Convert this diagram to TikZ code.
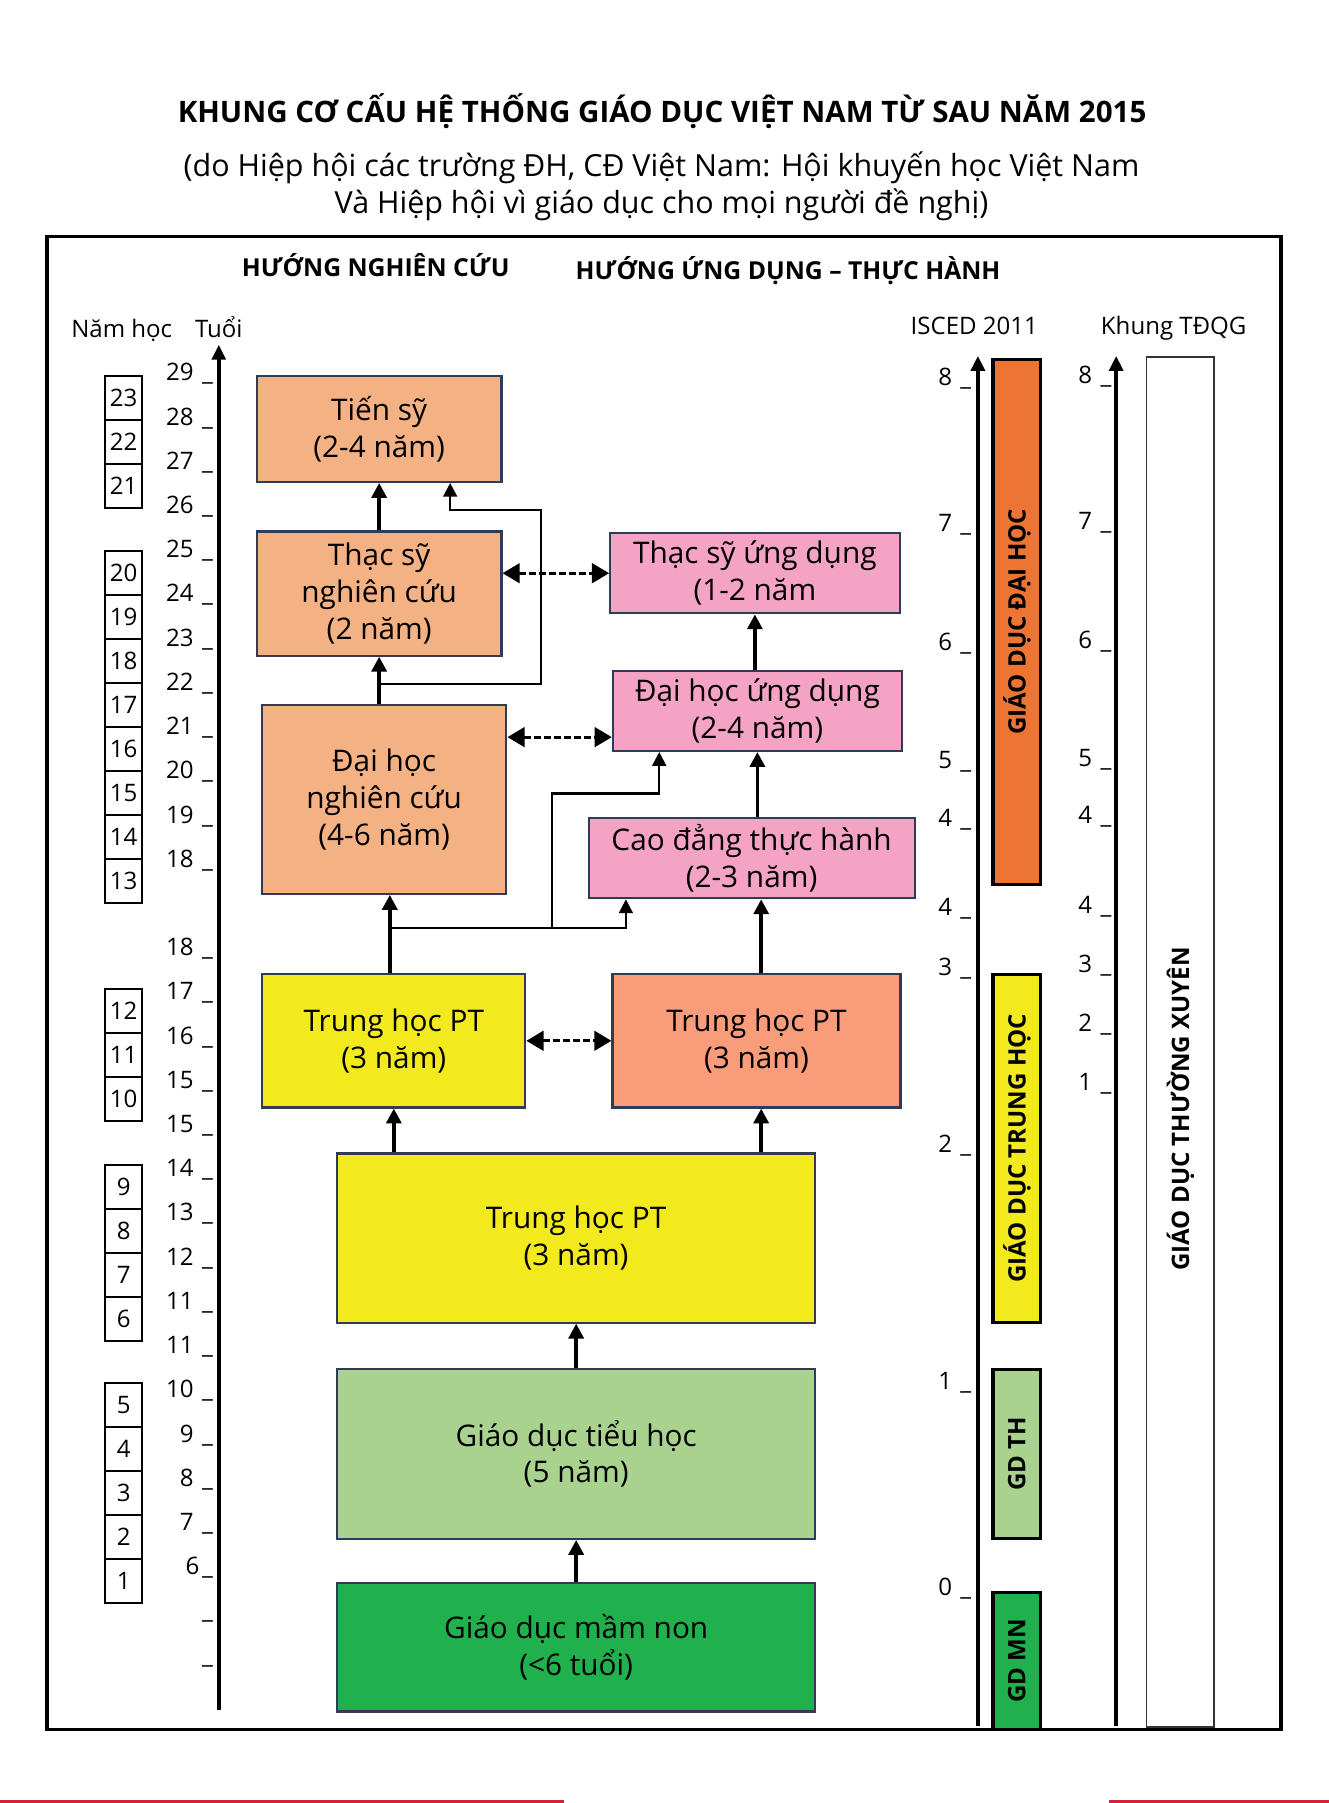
\documentclass[tikz,border=0pt]{standalone}
\usepackage{fontspec}
\setmainfont{Open Sans}
\usetikzlibrary{arrows.meta,calc}

\definecolor{peach}{HTML}{F4B183}
\definecolor{pinkbox}{HTML}{F4A3C4}
\definecolor{yellowbox}{HTML}{F2EA1C}
\definecolor{salmon}{HTML}{F89C7A}
\definecolor{lightgreen}{HTML}{A8D28E}
\definecolor{darkgreen}{HTML}{21B04E}
\definecolor{orangebar}{HTML}{EC7534}
\definecolor{navy}{HTML}{2F3B57}
\definecolor{redline}{HTML}{D0243C}

\begin{document}
\begin{tikzpicture}[x=0.5pt, y=-0.5pt,
    box/.style={draw=navy, line width=0.9pt, align=center, inner sep=0pt,
        font=\fontsize{13}{16}\selectfont},
    yearbox/.style={draw, line width=0.9pt, minimum width=16pt, minimum height=19.2pt,
        inner sep=0pt, font=\fontsize{10.5}{12}\selectfont},
    barbox/.style={draw, line width=1.5pt, inner sep=0pt, rotate=90, minimum height=20.7pt,
        font=\bfseries\fontsize{10.5}{12}\selectfont},
    ticktext/.style={inner sep=0pt, font=\fontsize{10.5}{12}\selectfont},
    headtext/.style={anchor=base, inner sep=0pt, font=\bfseries\fontsize{10.8}{13}\selectfont},
    up/.style={line width=1.6pt, -{Triangle[width=6.5pt,length=6.5pt]}},
    link/.style={line width=1pt, -{Triangle[width=6pt,length=6pt]}},
    both/.style={line width=1.4pt, dash pattern=on 3pt off 1.4pt,
        {Triangle[width=8.5pt,length=7.5pt]}-{Triangle[width=8.5pt,length=7.5pt]}},
    scaleaxis/.style={line width=1.5pt, -{Triangle[width=6pt,length=6.5pt]}},
]
    \useasboundingbox (0,0) rectangle (1160,1574);
    \fill[redline] (0,1571.5) rectangle (492,1574);
    \fill[redline] (968,1571.5) rectangle (1160,1574);

    % Title
    \node[anchor=base, inner sep=0pt, font=\bfseries\fontsize{12.9}{15}\selectfont] (title) at (578,107)
        {KHUNG CƠ CẤU HỆ THỐNG GIÁO DỤC VIỆT NAM TỪ SAU NĂM 2015};
    \node[anchor=base, inner sep=0pt, font=\fontsize{13.3}{16}\selectfont] (sub1) at (577.5,154)
        {(do Hiệp hội các trường ĐH, CĐ Việt Nam: Hội khuyến học Việt Nam};
    \node[anchor=base, inner sep=0pt, font=\fontsize{13.3}{16}\selectfont] (sub2) at (577.5,186)
        {Và Hiệp hội vì giáo dục cho mọi người đề nghị)};

    % Column headers
    \node[headtext] (hnc) at (328,241.5) {HƯỚNG NGHIÊN CỨU};
    \node[headtext] (hud) at (688,244) {HƯỚNG ỨNG DỤNG – THỰC HÀNH};
    \node[ticktext, anchor=base] (namhoc) at (106.3,294.7) {Năm học};
    \node[ticktext, anchor=base] (tuoi) at (191,294.7) {Tuổi};
    \node[ticktext, anchor=base] (isced) at (850.6,292) {ISCED 2011};
    \node[ticktext, anchor=base] (tdqg) at (1024.6,292) {Khung TĐQG};

    % Age axis
    \coordinate (agebot) at (191,1493);
    \coordinate (agetop) at (191,301);
    \draw[scaleaxis] (agebot) -- (agetop);
    \foreach \a/\i in {29/0,28/1,27/2,26/3,25/4,24/5,23/6,22/7,21/8,20/9,19/10,18/11,
                       18/13,17/14,16/15,15/16,15/17,14/18,13/19,12/20,11/21,11/22,
                       10/23,9/24,8/25,7/26}
        \node[ticktext, anchor=base east] (age\i) at (169.5,332.5+38.6*\i) {\a};
    \node[ticktext, anchor=base east] (age27) at (174.5,1374.7) {6};
    \foreach \i in {0,...,11,13,14,...,29}
        \node[ticktext, anchor=base west] at (176,332.5+38.6*\i) {\_};

    % School years
    \foreach \top/\first/\last in {328/23/21,481/20/13,863.4/12/10,1017/9/6,1207.5/5/1}
        \foreach \n in {\first,...,\last}
            \node[yearbox] (year\n) at (108,\top+19.2+38.4*\first-38.4*\n) {\n};

    % ISCED 2011 axis
    \coordinate (iscbot) at (853.7,1507);
    \coordinate (isctop) at (853.7,310.7);
    \draw[scaleaxis, line width=1.7pt] (iscbot) -- (isctop);
    \foreach \n/\y in {8/340.4,7/468,6/572,5/675,4/725,4/803,3/855.4,2/1010,1/1217,0/1397} {
        \node[ticktext, anchor=base east] at (831.5,\y-3.8) {\n};
        \node[ticktext, anchor=base west] at (838,\y-3.8) {\_};
    }
    \node[barbox, fill=orangebar, minimum width=229.2pt] (gddh) at (887.7,542.8) {GIÁO DỤC ĐẠI HỌC};
    \node[barbox, fill=yellowbox, minimum width=151.9pt] (gdtrh) at (887.7,1002.5) {GIÁO DỤC TRUNG HỌC};
    \node[barbox, fill=lightgreen, minimum width=74pt] (gdth) at (887.7,1269.3) {GD TH};
    \node[barbox, fill=darkgreen, minimum width=59.9pt] (gdmn) at (887.7,1450.1) {GD MN};

    % Khung TDQG axis
    \coordinate (tdbot) at (974.4,1507);
    \coordinate (tdtop) at (974.4,310.7);
    \draw[scaleaxis, line width=1.7pt] (tdbot) -- (tdtop);
    \foreach \n/\y in {8/339,7/466.4,6/570,5/673,4/723,4/801,3/853,2/904,1/956} {
        \node[ticktext, anchor=base east] at (953.7,\y-3.8) {\n};
        \node[ticktext, anchor=base west] at (960.5,\y-3.8) {\_};
    }
    \node[draw=black!80, line width=0.75pt, minimum width=29.4pt, minimum height=598pt,
        inner sep=0pt] (gdtx) at (1030.2,909.35) {};
    \node[rotate=90, inner sep=0pt, font=\bfseries\fontsize{10.5}{12}\selectfont] (gdtxtext)
        at (1030.5,968) {GIÁO DỤC THƯỜNG XUYÊN};

    % Research track
    \node[box, fill=peach, minimum width=106.8pt, minimum height=46.1pt] (tiensy) at (331,374.6) {Tiến sỹ\\(2-4 năm)};
    \node[box, fill=peach, minimum width=106.8pt, minimum height=54.2pt] (thacsync) at (331,518.2) {Thạc sỹ\\nghiên cứu\\(2 năm)};
    \node[box, fill=peach, minimum width=106.8pt, minimum height=82.3pt] (daihocnc) at (335.3,698) {Đại học\\nghiên cứu\\(4-6 năm)};

    % Applied track
    \node[box, fill=pinkbox, minimum width=126.3pt, minimum height=35pt] (thacsyud) at (659,500.4) {Thạc sỹ ứng dụng\\(1-2 năm};
    \node[box, fill=pinkbox, minimum width=126.2pt, minimum height=35pt] (daihocud) at (661.2,620.6) {Đại học ứng dụng\\(2-4 năm)};
    \node[box, fill=pinkbox, minimum width=142.3pt, minimum height=35pt] (caodang) at (656.1,749.2) {Cao đẳng thực hành\\(2-3 năm)};

    % School levels
    \node[box, fill=yellowbox, minimum width=114.8pt, minimum height=58.2pt] (thptl) at (343.8,908.6) {Trung học PT\\(3 năm)};
    \node[box, fill=salmon, minimum width=125.7pt, minimum height=58.2pt] (thptr) at (660.4,908.6) {Trung học PT\\(3 năm)};
    \node[box, fill=yellowbox, minimum width=208.5pt, minimum height=73.8pt] (thcs) at (502.9,1080.8) {Trung học PT\\(3 năm)};
    \node[box, fill=lightgreen, minimum width=208.6pt, minimum height=74.2pt] (tieuhoc) at (503,1269.2) {Giáo dục tiểu học\\(5 năm)};
    \node[box, fill=darkgreen, minimum width=208.6pt, minimum height=55.9pt] (mamnon) at (503,1438.2) {Giáo dục mầm non\\(<6 tuổi)};

    % Draw edges
    \coordinate (j1) at (331,597);
    \coordinate (b1) at (472,445);
    \coordinate (j2) at (340.3,810.3);
    \coordinate (j3) at (482,810.3);
    \coordinate (b2) at (482,692.8);
    \coordinate (rcol) at (664.5,0);
    \coordinate (dhudl) at ($(daihocud.south west)+(0,-13)$);

    \draw[up] (thacsync) -- (tiensy);
    \draw[up] (thacsync.south |- daihocnc.north) -- (thacsync.south);
    \draw[link] (j1) -| (b1) -| ($(tiensy.south)+(62,0)$);
    \draw[both] (thacsync.east |- thacsyud.west) -- (thacsyud.west);
    \draw[both] (daihocnc.east |- dhudl) -- (dhudl);
    \draw[up] (thacsyud.south |- daihocud.north) -- (thacsyud.south);
    \draw[up] (daihocud.south |- caodang.north) -- (daihocud.south);
    \draw[up] (rcol |- thptr.north) -- (rcol |- caodang.south);
    \draw[up] (j2 |- thptl.north) -- (j2 |- daihocnc.south);
    \draw[link] (j2) -| ($(caodang.south west)+(33.5,0)$);
    \draw[link] (j3) -- (b2) -| ($(daihocud.south west)+(41.4,0)$);
    \draw[both] (thptl) -- (thptr);
    \draw[up] (thptl.south |- thcs.north) -- (thptl.south);
    \draw[up] (rcol |- thcs.north) -- (rcol |- thptr.south);
    \draw[up] (tieuhoc.north) -- (tieuhoc.north |- thcs.south);
    \draw[up] (mamnon.north) -- (tieuhoc.south);

    % Frame
    \draw[line width=1.5pt] (41,206.6) rectangle (1118.4,1510);
\end{tikzpicture}
\end{document}
